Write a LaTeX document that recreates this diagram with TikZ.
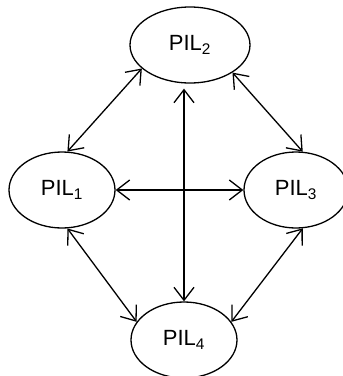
\documentclass[tikz,border=0pt]{standalone}
\usepackage{fontspec}
\setmainfont{Liberation Sans}
\usetikzlibrary{shapes.geometric,arrows.meta}

\tikzset{
  pil/.style = {draw, ellipse, line width=1.3pt, inner sep=0pt,
                minimum height=76pt, font=\fontsize{22}{26}\selectfont},
  barb/.tip = {Straight Barb[length=13pt,width=20pt]},
  link/.style = {line width=1.3pt, barb-barb}
}

\begin{document}
\begin{tikzpicture}[x = 1pt, y = -1pt]
      \useasboundingbox (0,0) rectangle (343,376);

      \node [pil, minimum width = 120pt] (p2) at (190,45)  {PIL\textsubscript{2}};
      \node [pil, minimum width = 106pt] (p1) at (62,190)  {PIL\textsubscript{1}};
      \node [pil, minimum width = 104pt] (p3) at (296,190) {PIL\textsubscript{3}};
      \node [pil, minimum width = 106pt] (p4) at (184,340) {PIL\textsubscript{4}};

      \draw [link] (p1.82)  -- (p2.206);
      \draw [link] (p2.-33) -- (p3.80);
      \draw [link] (p1.-82) -- (p4.159);
      \draw [link] (p3.-80) -- (p4.21);

      \draw [link] (p1.east) -- (p3.west);
      \draw [link, shorten <= 5pt] (p2.south -| p4.north) -- (p4.north);

\end{tikzpicture}
\end{document}
